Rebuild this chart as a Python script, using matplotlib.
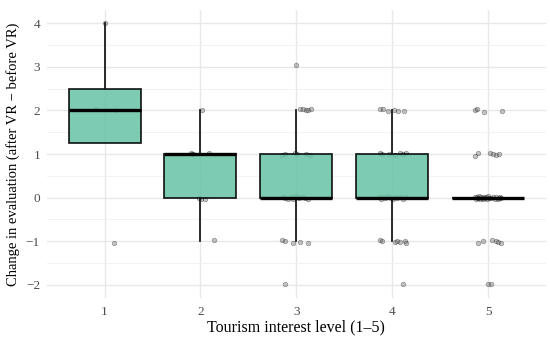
import numpy as np
import matplotlib

matplotlib.use("Agg")
import matplotlib.pyplot as plt
from matplotlib.ticker import MultipleLocator

# ─── Data (jittered points) ──────────────────────────────────────────────────

levels = [1, 2, 3, 4, 5]
x_label = "Tourism interest level (1–5)"
y_label = "Change in evaluation (after VR − before VR)"

g1_dx = [-0.09, 0.11, 0.10, 0.0]
g1_y = [2.03, 2.02, -1.04, 4.0]

g2_dx = [0.02, -0.10, -0.09, -0.08, 0.09, -0.01, 0.01, 0.05, 0.145]
g2_y = [2.0, 1.02, 0.99, 1.0, 1.03, 0.0, -0.02, -0.03, -0.97]

g3_dx = [0.0,
         0.04, 0.07, 0.10, 0.12, 0.15,
         -0.15, -0.115, -0.01, 0.01, 0.10, 0.145,
         -0.14, -0.12, -0.09, -0.06, -0.03, 0.0, 0.03, 0.06, 0.09, 0.12,
         -0.15, -0.115, -0.035, 0.035, 0.12,
         -0.115]
g3_y = [3.05,
        2.04, 2.04, 2.02, 2.01, 2.03,
        0.98, 1.0, 1.02, 1.01, 1.0, 0.97,
        0.02, -0.01, -0.03, 0.01, -0.02, 0.03, -0.01, 0.02, 0.0, -0.02,
        -0.98, -1.0, -1.03, -1.02, -1.03,
        -1.97]

g4_dx = [-0.13, -0.10, -0.045, 0.02, 0.06, 0.12,
         -0.13, -0.107, -0.03, 0.03, 0.085, 0.11, 0.145,
         -0.14, -0.12, -0.10, -0.07, -0.04, -0.01, 0.01, 0.03, 0.05, 0.08, 0.11, 0.14,
         -0.13, -0.107, 0.03, 0.055, 0.085, 0.135, 0.145,
         0.11]
g4_y = [2.03, 2.03, 1.98, 2.01, 1.98, 1.99,
        1.03, 0.99, 1.01, 0.98, 1.02, 0.99, 1.02,
        0.01, -0.02, 0.02, -0.01, 0.03, 0.0, -0.03, 0.02, -0.01, 0.01, -0.02, 0.02,
        -0.98, -1.0, -1.02, -0.99, -1.02, -1.0, -1.03,
        -1.97]

g5_dx = [-0.135, -0.118, -0.04, 0.15,
         -0.135, -0.10, 0.02, 0.055, 0.08, 0.117,
         -0.14, -0.13, -0.12, -0.11, -0.10, -0.09, -0.08, -0.07, -0.06, -0.05, -0.04, -0.03,
         -0.02, -0.01, 0.0, 0.01, 0.03, 0.05, 0.07, 0.08, 0.10, 0.11, 0.12, 0.14,
         -0.107, -0.05, 0.04, 0.08, 0.10, 0.13,
         0.0, 0.03]
g5_y = [2.02, 2.04, 1.97, 1.99,
        0.96, 1.02, 1.02, 0.99, 0.98, 1.0,
        0.01, -0.02, 0.02, 0.0, -0.01, 0.03, -0.02, 0.01, 0.0, -0.03, 0.02, -0.01,
        0.01, -0.02, 0.03, 0.0, -0.01, 0.02, -0.02, 0.01, -0.03, 0.0, 0.02, -0.01,
        -1.04, -1.0, -0.97, -1.0, -1.02, -1.04,
        -1.98, -1.98]

groups_dx = [g1_dx, g2_dx, g3_dx, g4_dx, g5_dx]
groups_y = [g1_y, g2_y, g3_y, g4_y, g5_y]

# ─── Style ───────────────────────────────────────────────────────────────────

BOX_FILL = "#66C2A5"
GRID_MAJOR = "#E8E8E8"
GRID_MINOR = "#F2F2F2"
TEXT_COLOR = "#4D4D4D"

plt.rcParams["font.family"] = ["Liberation Serif", "DejaVu Serif"]

fig = plt.figure(figsize=(5.5, 3.4), dpi=100)
ax = fig.add_axes([0.0855, 0.1235, 0.9065, 0.847])

# jittered points, under the boxes
for lvl, dx, ys in zip(levels, groups_dx, groups_y):
    ax.scatter(np.array(dx) + lvl, ys, s=11, facecolor="#555555",
               edgecolor="black", linewidth=0.5, alpha=0.35, zorder=2)

# box statistics from the underlying integer scores
box_data = [np.round(ys) for ys in groups_y]
ax.boxplot(
    box_data,
    positions=levels,
    widths=0.75,
    whis=1.5,
    showfliers=False,
    showcaps=False,
    patch_artist=True,
    boxprops=dict(facecolor=BOX_FILL, alpha=0.85, edgecolor="black", linewidth=1.3),
    medianprops=dict(color="black", linewidth=2.4),
    whiskerprops=dict(color="#1A1A1A", linewidth=1.3),
    zorder=3,
)
# keep box edges opaque
for patch in ax.patches:
    patch.set_edgecolor((0, 0, 0, 1))

ax.set_xlim(0.4, 5.6)
ax.set_ylim(-2.3, 4.3)
ax.set_xticks(levels)
ax.set_xticklabels([str(v) for v in levels])
ax.yaxis.set_major_locator(MultipleLocator(1))
ax.yaxis.set_minor_locator(MultipleLocator(0.5))

ax.grid(True, which="major", color=GRID_MAJOR, linewidth=1.0, zorder=0)
ax.grid(True, which="minor", axis="y", color=GRID_MINOR, linewidth=0.7, zorder=0)
ax.set_axisbelow(True)
for spine in ax.spines.values():
    spine.set_visible(False)
ax.tick_params(which="both", length=0, labelsize=9.5, labelcolor=TEXT_COLOR)
ax.tick_params(axis="x", pad=6)
ax.tick_params(axis="y", pad=5)

ax.set_xlabel(x_label, fontsize=11.5, labelpad=1)
ax.set_ylabel(y_label, fontsize=10.5, labelpad=4)

fig.savefig("out.png", dpi=100)
